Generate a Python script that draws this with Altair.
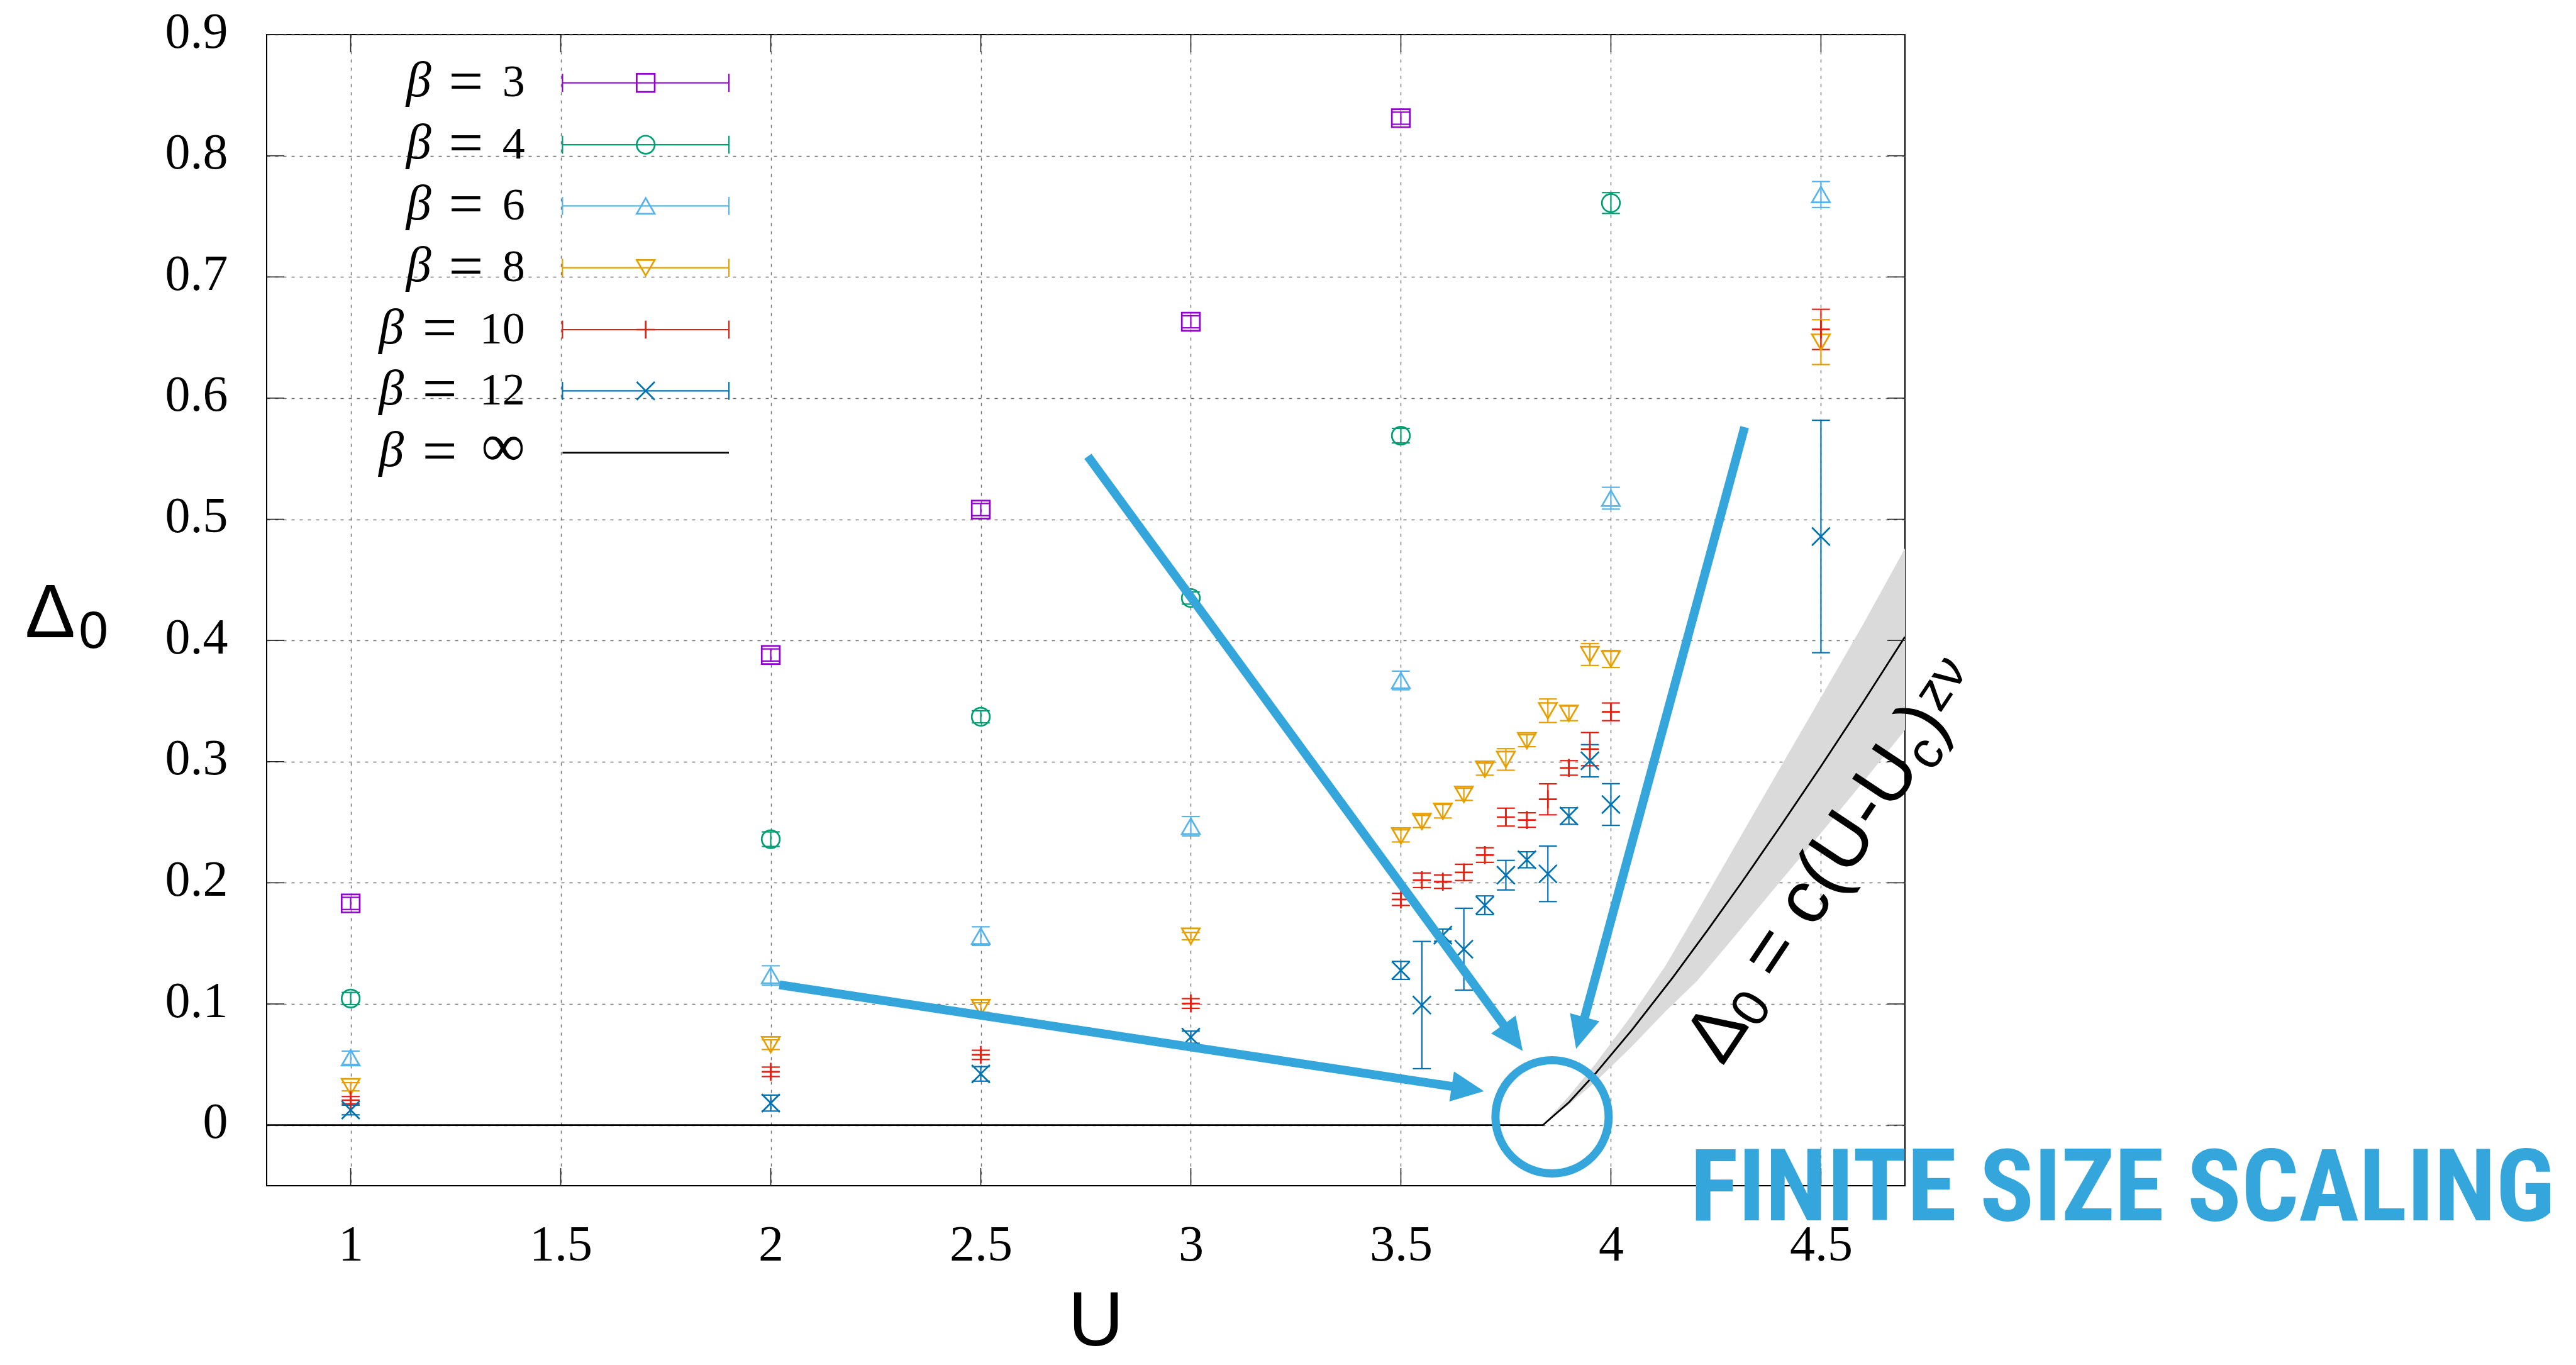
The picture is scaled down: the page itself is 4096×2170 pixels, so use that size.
import math
import altair as alt
import pandas as pd

# ---------------- values ----------------
BETAS = ["3", "4", "6", "8", "10", "12"]
COLORS = ["#9400D3", "#009E73", "#56B4E9", "#E69F00", "#E51E10", "#0072B2"]

U3 = [1, 2, 2.5, 3, 3.5]
D3 = [0.183, 0.388, 0.508, 0.663, 0.831]
E3 = [0.005, 0.005, 0.005, 0.005, 0.005]

U4 = [1, 2, 2.5, 3, 3.5, 4]
D4 = [0.1045, 0.236, 0.337, 0.435, 0.569, 0.761]
E4 = [0.005, 0.006, 0.005, 0.005, 0.006, 0.0086]

U6 = [1, 2, 2.5, 3, 3.5, 4, 4.5]
D6 = [0.0556, 0.1235, 0.156, 0.2467, 0.367, 0.5174, 0.768]
E6 = [0.0055, 0.008, 0.0077, 0.008, 0.0077, 0.009, 0.0107]

U8 = [1, 2, 2.5, 3, 3.5, 3.55, 3.6, 3.65, 3.7, 3.75, 3.8, 3.85, 3.9, 3.95, 4.0, 4.5]
D8 = [0.0317, 0.0664, 0.097, 0.156, 0.2387, 0.2506, 0.259, 0.273, 0.2938, 0.3018,
      0.3173, 0.342, 0.3398, 0.3884, 0.3847, 0.6462]
E8 = [0.0034, 0.004, 0.004, 0.003, 0.005, 0.005, 0.0055, 0.005, 0.005, 0.0089,
      0.005, 0.0097, 0.006, 0.009, 0.007, 0.0185]

U10 = [1, 2, 2.5, 3, 3.5, 3.55, 3.6, 3.65, 3.7, 3.75, 3.8, 3.85, 3.9, 3.95, 4.0, 4.5]
D10 = [0.0206, 0.044, 0.058, 0.1004, 0.1863, 0.2021, 0.2009, 0.2086, 0.2229, 0.2542,
       0.2518, 0.2689, 0.2948, 0.3103, 0.3411, 0.6567]
E10 = [0.003, 0.0039, 0.0038, 0.004, 0.005, 0.006, 0.0055, 0.0067, 0.006, 0.0074,
       0.006, 0.0128, 0.006, 0.0137, 0.0073, 0.0166]

U12 = [1, 2, 2.5, 3, 3.5, 3.55, 3.6, 3.65, 3.7, 3.75, 3.8, 3.85, 3.9, 3.95, 4.0, 4.5]
D12 = [0.0125, 0.0182, 0.0423, 0.0726, 0.1277, 0.0991, 0.1568, 0.1452, 0.1815, 0.2063,
       0.219, 0.2074, 0.2551, 0.3007, 0.2646, 0.4858]
E12 = [0.004, 0.0066, 0.006, 0.005, 0.0074, 0.0525, 0.005, 0.0338, 0.0077, 0.0122,
       0.0066, 0.0229, 0.0068, 0.0133, 0.0172, 0.0959]

# beta = infinity curve and its grey uncertainty band
CURVE_U = [0.8, 3.838, 3.90, 3.964, 4.05, 4.148, 4.23, 4.31, 4.40, 4.50, 4.60, 4.70]
CURVE_D = [0.0, 0.0, 0.0188, 0.0429, 0.0786, 0.1222, 0.1608, 0.1997, 0.2449, 0.2961, 0.3488, 0.403]
BAND_U = [3.838, 3.90, 3.964, 4.05, 4.129, 4.205, 4.30, 4.398, 4.50, 4.60, 4.70]
BAND_HI = [0.0, 0.024, 0.051, 0.091, 0.131, 0.176, 0.233, 0.292, 0.353, 0.413, 0.476]
BAND_LO = [0.0, 0.017, 0.036, 0.065, 0.0935, 0.119, 0.158, 0.199, 0.241, 0.283, 0.326]

X_TICKS = [1, 1.5, 2, 2.5, 3, 3.5, 4, 4.5]
Y_TICKS = [0, 0.1, 0.2, 0.3, 0.4, 0.5, 0.6, 0.7, 0.8, 0.9]

LEG_NUMS = ["3", "4", "6", "8", "10", "12", "∞"]
FORMULA_PARTS = ["Δ", "0", "= c(U-U", "c", ")", "zν"]
YTITLE_PARTS = ["Δ", "0"]
XTITLE = "U"
BANNER = "FINITE SIZE SCALING"

# ---------------- layout ----------------
SC = 0.945
W, H = 2605, 1830
PAD_L, PAD_T = 424, 55
XDOM = [0.8, 4.7]
YDOM = [-0.05, 0.9]
ARROW = "#35A6DB"
SERIF = "Liberation Serif"
SANS = "Liberation Sans"


def rx(X):  # reference pixel -> U
    return 1 + (X - 588.6) / 706.8


def ry(Y):  # reference pixel -> Delta
    return (1893.0 - Y) / 2038.0


def to_px(u, d):
    return ((u - XDOM[0]) / (XDOM[1] - XDOM[0]) * W,
            (YDOM[1] - d) / (YDOM[1] - YDOM[0]) * H)


def from_px(px, py):
    return (XDOM[0] + px / W * (XDOM[1] - XDOM[0]),
            YDOM[1] - py / H * (YDOM[1] - YDOM[0]))


XS = alt.Scale(domain=XDOM, nice=False, zero=False)
YS = alt.Scale(domain=YDOM, nice=False, zero=False)

axis_common = dict(ticks=False, tickSize=0, domain=False, grid=True,
                   gridDash=[5, 8], gridColor="#6f6f6f", gridWidth=1.4,
                   labelFont=SERIF, labelFontSize=80, labelColor="black",
                   labelOverlap=False, labelFlush=False, title=None, format="~g")
x_axis = alt.Axis(values=X_TICKS, labelPadding=118, labelBaseline="alphabetic", **axis_common)
y_axis = alt.Axis(values=Y_TICKS, labelPadding=62, labelOffset=-4, **axis_common)


def X(field):
    return alt.X(field, scale=XS, axis=x_axis, title=None)


def Y(field):
    return alt.Y(field, scale=YS, axis=y_axis, title=None)


PLUS = "M-1,0H1M0,-1V1"
CROSS = "M-1,-1L1,1M-1,1L1,-1"
SHAPES = ["square", "circle", "triangle-up", "triangle-down", PLUS, CROSS]
color_enc = alt.Color("beta:N", scale=alt.Scale(domain=BETAS, range=COLORS), legend=None)
shape_enc = alt.Shape("beta:N", scale=alt.Scale(domain=BETAS, range=SHAPES), legend=None)

rows = []
for b, us, ds, es in zip(BETAS, [U3, U4, U6, U8, U10, U12], [D3, D4, D6, D8, D10, D12],
                         [E3, E4, E6, E8, E10, E12]):
    for u, d, e in zip(us, ds, es):
        rows.append(dict(beta=b, U=u, D=d, lo=d - e, hi=d + e))
pts = pd.DataFrame(rows)
caps_df = pd.concat([pts.assign(v=pts["lo"]), pts.assign(v=pts["hi"])])

MS = 820  # marker size (area)
MW = 2.7  # marker stroke width
EW = 2.2  # error bar stroke width

band = alt.Chart(pd.DataFrame({"U": BAND_U, "lo": BAND_LO, "hi": BAND_HI})).mark_area(
    color="#dadada", opacity=1).encode(x=X("U:Q"), y=Y("lo:Q"), y2="hi:Q")

curve = alt.Chart(pd.DataFrame({"U": CURVE_U, "D": CURVE_D})).mark_line(
    color="black", strokeWidth=2.8).encode(x=X("U:Q"), y=Y("D:Q"))

err = alt.Chart(pts).mark_rule(strokeWidth=EW).encode(
    x=X("U:Q"), y=Y("lo:Q"), y2="hi:Q", color=color_enc)
caps = alt.Chart(caps_df).mark_point(shape="stroke", size=MS, strokeWidth=EW, opacity=1).encode(
    x=X("U:Q"), y=Y("v:Q"), color=color_enc)
marks = alt.Chart(pts).mark_point(size=MS, strokeWidth=MW, filled=False, opacity=1).encode(
    x=X("U:Q"), y=Y("D:Q"), color=color_enc, shape=shape_enc)

# inward ticks on all four sides (gnuplot style)
TL = 28
xt = pd.DataFrame({"t": X_TICKS})
yt = pd.DataFrame({"t": Y_TICKS})
tick_style = dict(color="#222222", strokeWidth=1.6)
tick_b = alt.Chart(xt).mark_rule(**tick_style).encode(x=X("t:Q"), y=alt.value(H), y2=alt.value(H - TL))
tick_t = alt.Chart(xt).mark_rule(**tick_style).encode(x=X("t:Q"), y=alt.value(0), y2=alt.value(TL))
tick_l = alt.Chart(yt).mark_rule(**tick_style).encode(y=Y("t:Q"), x=alt.value(0), x2=alt.value(TL))
tick_r = alt.Chart(yt).mark_rule(**tick_style).encode(y=Y("t:Q"), x=alt.value(W), x2=alt.value(W - TL))

# ---------------- legend (built by hand, gnuplot style) ----------------
ROW_Y = [140, 244, 347, 451, 555, 658, 762]
leg = []
for i, num in enumerate(LEG_NUMS):
    one = len(num) == 1 and num != "∞"
    leg.append(dict(num=num, beta=BETAS[i] if i < len(BETAS) else "inf",
                    nfs=98 if num == "∞" else 72,
                    yrow=ry(ROW_Y[i]), ybase=ry(ROW_Y[i] + 23),
                    xb=rx(724 if one else 678), xeq=rx(782.5 if one else 738.5),
                    xn=rx(882), x1=rx(945), x2=rx(1225), xm=rx(1085)))
leg_df = pd.DataFrame(leg)
leg_ser = leg_df[leg_df["beta"] != "inf"]
leg_inf = leg_df[leg_df["beta"] == "inf"]

leg_beta = alt.Chart(leg_df).mark_text(text="β", font=SERIF, fontStyle="italic", fontSize=80,
                                       align="right", baseline="alphabetic", color="black").encode(
    x=X("xb:Q"), y=Y("ybase:Q"))
leg_eq = alt.Chart(leg_df).mark_text(text="=", font=SERIF, fontSize=98, align="center",
                                     baseline="middle", color="black").encode(
    x=X("xeq:Q"), y=Y("yrow:Q"))
leg_num = alt.Chart(leg_df).mark_text(font=SERIF, align="right",
                                      baseline="alphabetic", color="black").encode(
    x=X("xn:Q"), y=Y("ybase:Q"), text="num:N", size=alt.Size("nfs:Q", scale=None))
leg_line = alt.Chart(leg_ser).mark_rule(strokeWidth=EW).encode(
    x=X("x1:Q"), x2="x2:Q", y=Y("yrow:Q"), color=color_enc)
leg_cap1 = alt.Chart(leg_ser).mark_point(shape="M0,-1V1", size=MS, strokeWidth=EW, opacity=1).encode(
    x=X("x1:Q"), y=Y("yrow:Q"), color=color_enc)
leg_cap2 = alt.Chart(leg_ser).mark_point(shape="M0,-1V1", size=MS, strokeWidth=EW, opacity=1).encode(
    x=X("x2:Q"), y=Y("yrow:Q"), color=color_enc)
leg_mark = alt.Chart(leg_ser).mark_point(size=MS, strokeWidth=MW, filled=False, opacity=1).encode(
    x=X("xm:Q"), y=Y("yrow:Q"), color=color_enc, shape=shape_enc)
leg_infl = alt.Chart(leg_inf).mark_rule(strokeWidth=2.8, color="black").encode(
    x=X("x1:Q"), x2="x2:Q", y=Y("yrow:Q"))

# ---------------- annotation arrows and circle ----------------
ARROWS_REF = [((1310, 1657), (2495.5, 1836)),
              ((1829, 768), (2560.6, 1768.3)),
              ((2934, 719), (2650.5, 1764.6))]
HEAD_L = 52
HEAD = "M0,-1L-0.93,1L0.93,1Z"
a_rows, h_rows = [], []
for (s, t) in ARROWS_REF:
    su, sd = rx(s[0]), ry(s[1])
    tu, td = rx(t[0]), ry(t[1])
    sx, sy = to_px(su, sd)
    tx, ty = to_px(tu, td)
    L = math.hypot(tx - sx, ty - sy)
    dx, dy = (tx - sx) / L, (ty - sy) / L
    ex, ey = tx - dx * HEAD_L * 0.8, ty - dy * HEAD_L * 0.8
    cx, cy = tx - dx * HEAD_L / 2, ty - dy * HEAD_L / 2
    eu, ed = from_px(ex, ey)
    cu, cd = from_px(cx, cy)
    a_rows.append(dict(u1=su, d1=sd, u2=eu, d2=ed))
    h_rows.append(dict(u=cu, d=cd, ang=math.degrees(math.atan2(dx, -dy)) % 360))
arrow_lines = alt.Chart(pd.DataFrame(a_rows)).mark_rule(
    color=ARROW, strokeWidth=14, strokeCap="butt").encode(
    x=X("u1:Q"), y=Y("d1:Q"), x2="u2:Q", y2="d2:Q")
arrow_heads = alt.Chart(pd.DataFrame(h_rows)).mark_point(
    shape=HEAD, size=HEAD_L ** 2, filled=True, color=ARROW, opacity=1, strokeWidth=0).encode(
    x=X("u:Q"), y=Y("d:Q"), angle=alt.Angle("ang:Q", scale=None))
circle = alt.Chart(pd.DataFrame({"u": [rx(2610)], "d": [ry(1879)]})).mark_point(
    shape="circle", size=180 ** 2, filled=False, strokeWidth=13, color=ARROW, opacity=1).encode(
    x=X("u:Q"), y=Y("d:Q"))

# ---------------- texts ----------------
banner = alt.Chart(pd.DataFrame({"u": [rx(4297)], "d": [ry(2053)], "t": [BANNER]})).mark_text(
    font="Roboto Condensed", fontWeight="bold", fontSize=160, color=ARROW,
    align="right", baseline="alphabetic").encode(x=X("u:Q"), y=Y("d:Q"), text="t:N")

TH = math.radians(56.4)
ux_, uy_ = math.cos(TH), -math.sin(TH)
nx_, ny_ = math.sin(TH), math.cos(TH)
S0 = (2897, 1795)
F_LAYOUT = [(0, 0, 126), (84, -14, 88), (168, 0, 126), (607, -20, 88), (651, 0, 126), (697, 24, 88)]
f_rows = []
for txt, (a, p, fs) in zip(FORMULA_PARTS, F_LAYOUT):
    Xr = S0[0] + a * ux_ - p * nx_
    Yr = S0[1] + a * uy_ - p * ny_
    f_rows.append(dict(u=rx(Xr), d=ry(Yr), t=txt, fs=fs * SC))
formula = alt.Chart(pd.DataFrame(f_rows)).mark_text(
    font=SANS, color="black", align="left", baseline="alphabetic", angle=360 - 56.4).encode(
    x=X("u:Q"), y=Y("d:Q"), text="t:N", size=alt.Size("fs:Q", scale=None))

yt_rows = [dict(u=rx(40.7), d=ry(1072), t=YTITLE_PARTS[0], fs=127 * SC),
           dict(u=rx(131), d=ry(1090), t=YTITLE_PARTS[1], fs=89 * SC)]
ytitle = alt.Chart(pd.DataFrame(yt_rows)).mark_text(
    font=SANS, color="black", align="left", baseline="alphabetic").encode(
    x=X("u:Q"), y=Y("d:Q"), text="t:N", size=alt.Size("fs:Q", scale=None))
xtitle = alt.Chart(pd.DataFrame({"u": [rx(1842.6)], "d": [ry(2264)], "t": [XTITLE]})).mark_text(
    font=SANS, color="black", fontSize=122, align="center", baseline="alphabetic").encode(
    x=X("u:Q"), y=Y("d:Q"), text="t:N")

chart = alt.layer(
    band, curve, err, caps, marks,
    tick_b, tick_t, tick_l, tick_r,
    leg_line, leg_cap1, leg_cap2, leg_mark, leg_infl, leg_beta, leg_eq, leg_num,
    arrow_lines, arrow_heads, circle,
    banner, formula, ytitle, xtitle,
).properties(
    width=W, height=H,
    autosize=alt.AutoSizeParams(type="none"),
    padding={"left": PAD_L, "top": PAD_T, "right": 4096 - PAD_L - W, "bottom": 2170 - PAD_T - H},
    background="white",
).configure_view(stroke="black", strokeWidth=2)

chart.save("out.html", embed_options={"renderer": "svg", "actions": False})
